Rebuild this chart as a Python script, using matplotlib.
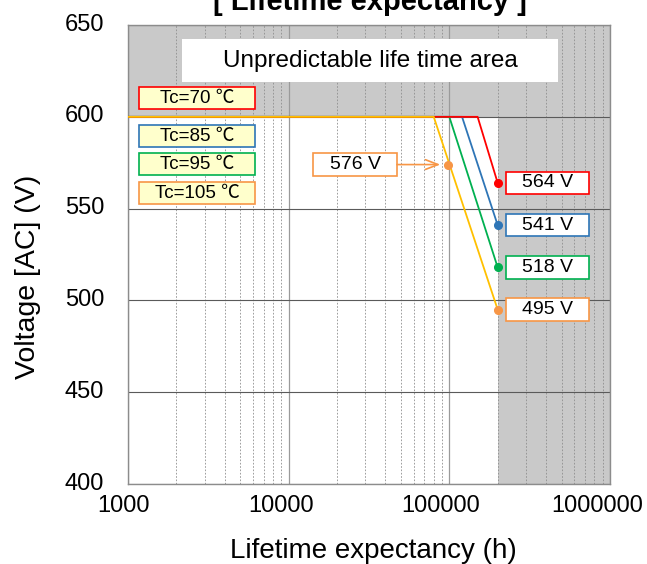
import matplotlib
matplotlib.use("Agg")
import matplotlib.pyplot as plt
import matplotlib.transforms as mtrans
from matplotlib.patches import Rectangle
from matplotlib.ticker import LogLocator, NullFormatter

plt.rcParams['font.family'] = ['Liberation Sans', 'Noto Sans CJK JP', 'DejaVu Sans']

# data
temps = ['Tc=70 ℃', 'Tc=85 ℃', 'Tc=95 ℃', 'Tc=105 ℃']
start_hours = 1000
rated_volt = 600
knee_hours = [150000, 120000, 100000, 80000]
end_hours = 200000
end_volts = [564, 541, 518, 495]
point_hours = 98000
point_volt = 574
point_label = '576 V'
x_ticks = [1000, 10000, 100000, 1000000]
x_tick_labels = ['1000', '10000', '100000', '1000000']
y_ticks = [400, 450, 500, 550, 600, 650]

line_colors = ['#FF0000', '#2E75B6', '#00B050', '#FFC000']
mark_colors = ['#FF0000', '#2E75B6', '#00B050', '#F79646']
line_z = [4, 3, 3, 5]

fig = plt.figure(figsize=(6.47, 5.64), dpi=100)
ax = fig.add_axes([0.1978, 0.1418, 0.745, 0.8138])
ax.set_xscale('log')
ax.set_xlim(1000, 1000000)
ax.set_ylim(400, 650)

# grey "unpredictable" regions
ax.axhspan(rated_volt, 650, color='#C9C9C9', zorder=0, lw=0)
ax.axvspan(end_hours, 1000000, color='#C9C9C9', zorder=0, lw=0)

ax.set_axisbelow(True)
ax.set_yticks(y_ticks)
ax.set_xticks(x_ticks)
ax.set_xticklabels(x_tick_labels)
ax.xaxis.set_minor_locator(LogLocator(base=10, subs=range(2, 10)))
ax.xaxis.set_minor_formatter(NullFormatter())
ax.grid(axis='y', which='major', color='#5A5A5A', lw=0.8)
ax.grid(axis='x', which='major', color='#9A9A9A', lw=0.9)
ax.grid(axis='x', which='minor', color='#8E8E8E', lw=0.6, ls=(0, (2, 2)))
ax.tick_params(which='both', length=0)
ax.tick_params(axis='y', labelsize=17, pad=17)
ax.tick_params(axis='x', labelsize=17, pad=8)
for s in ax.spines.values():
    s.set_color('#8C8C8C')
    s.set_linewidth(1.0)

off = mtrans.ScaledTranslation(0, 3 / 100, fig.dpi_scale_trans)
for lab in ax.get_yticklabels():
    lab.set_transform(lab.get_transform() + off)
for lab, dx in zip(ax.get_xticklabels(), [-4, -8, -9, -13]):
    lab.set_transform(lab.get_transform() + mtrans.ScaledTranslation(dx / 100, 0, fig.dpi_scale_trans))

ax.set_xlabel('Lifetime expectancy (h)', fontsize=20)
ax.set_ylabel('Voltage [AC] (V)', fontsize=20.5)
ax.xaxis.set_label_coords(0.51, -0.146)
ax.yaxis.set_label_coords(-0.208, 0.452)
ax.xaxis.label.set_va('center')
ax.yaxis.label.set_va('center')

for i in range(4):
    ax.plot([start_hours, knee_hours[i], end_hours],
            [rated_volt, rated_volt, end_volts[i]],
            color=line_colors[i], lw=1.3, zorder=line_z[i])
    ax.plot(end_hours, end_volts[i], 'o', color=mark_colors[i], ms=5.5, zorder=6)

ax.plot(point_hours, point_volt, 'o', color=mark_colors[3], ms=5.5, zorder=6)

blend = mtrans.blended_transform_factory(ax.transAxes, ax.transData)

# end-value boxes
for i in range(4):
    ax.add_patch(Rectangle((0.784, end_volts[i] - 6.1), 0.1722, 12.2, transform=blend,
                           facecolor='white', edgecolor=mark_colors[i], lw=1.2, zorder=7))
    ax.text(0.87, end_volts[i], '%d V' % end_volts[i], transform=blend, ha='center',
            va='center', fontsize=14, zorder=8)

# 576 V call-out
ax.add_patch(Rectangle((0.3838, point_volt - 6.3), 0.1743, 12.6, transform=blend,
                       facecolor='white', edgecolor=mark_colors[3], lw=1.2, zorder=7))
ax.text(0.471, point_volt, point_label, transform=blend, ha='center', va='center',
        fontsize=14, zorder=8)
ax.annotate('', xy=(point_hours, point_volt), xytext=(0.5581, point_volt),
            textcoords=blend, zorder=7,
            arrowprops=dict(arrowstyle='->,head_length=0.9,head_width=0.35',
                            color=mark_colors[3], lw=1.2, shrinkA=0, shrinkB=5.5))

# legend boxes
tops = [0.865, 0.782, 0.7211, 0.658]
for i in range(4):
    ax.add_patch(Rectangle((0.0228, tops[i] - 0.048), 0.2407, 0.048, transform=ax.transAxes,
                           facecolor='#FFFFCC', edgecolor=mark_colors[i], lw=1.2, zorder=7))
    ax.text(0.1432, tops[i] - 0.024, temps[i], transform=ax.transAxes, ha='center',
            va='center', fontsize=13.5, zorder=8)

# unpredictable area label
ax.add_patch(Rectangle((0.112, 0.876), 0.78, 0.0935, transform=ax.transAxes,
                       facecolor='white', edgecolor='none', zorder=7))
ax.text(0.502, 0.9227, 'Unpredictable life time area', transform=ax.transAxes,
        ha='center', va='center', fontsize=17.5, zorder=8)

fig.text(0.572, 0.983, '[ Lifetime expectancy ]', ha='center', va='baseline',
         fontsize=21, fontweight='bold')

fig.savefig('out.png', dpi=100)
